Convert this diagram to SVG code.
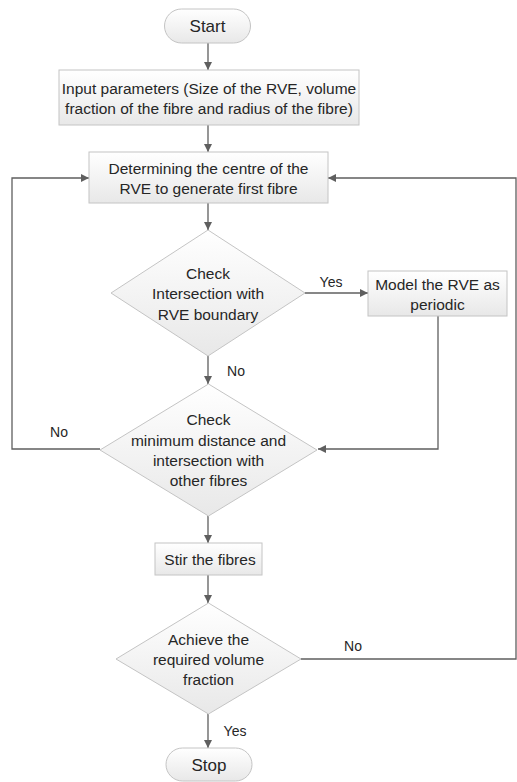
<svg xmlns="http://www.w3.org/2000/svg" width="517" height="782" viewBox="0 0 517 782">
<style>
.n{fill:url(#g);stroke:#c4c4c4;stroke-width:1}
.t{font-family:"Liberation Sans",Arial,sans-serif;font-size:15.5px;fill:#262626;text-anchor:middle}
.l{font-family:"Liberation Sans",Arial,sans-serif;font-size:14px;fill:#262626;text-anchor:middle}
.c{fill:none;stroke:#5f5f5f;stroke-width:1.3}
</style>
<defs>
<linearGradient id="g" x1="0" y1="0" x2="0" y2="1">
<stop offset="0" stop-color="#ffffff"/>
<stop offset="1" stop-color="#e8e8e8"/>
</linearGradient>
<marker id="a" viewBox="0 0 10 10" refX="10" refY="5" markerWidth="8" markerHeight="8" markerUnits="userSpaceOnUse" orient="auto">
<path d="M0,0 L10,5 L0,10 z" fill="#5f5f5f"/>
</marker>
</defs>
<rect width="517" height="782" fill="#ffffff"/>
<g id="connectors">
<line class="c" x1="208" y1="43" x2="208" y2="70" marker-end="url(#a)"/>
<line class="c" x1="208" y1="125" x2="208" y2="152" marker-end="url(#a)"/>
<line class="c" x1="208" y1="203" x2="208" y2="230" marker-end="url(#a)"/>
<line class="c" x1="305" y1="293" x2="368" y2="293" marker-end="url(#a)"/>
<line class="c" x1="208" y1="356" x2="208" y2="384" marker-end="url(#a)"/>
<polyline class="c" points="438,316 438,449 318,449" marker-end="url(#a)"/>
<polyline class="c" points="100,449 12,449 12,178 89,178" marker-end="url(#a)"/>
<line class="c" x1="208" y1="516" x2="208" y2="543" marker-end="url(#a)"/>
<line class="c" x1="208" y1="575" x2="208" y2="603" marker-end="url(#a)"/>
<polyline class="c" points="301,659 516,659 516,178 328,178" marker-end="url(#a)"/>
<line class="c" x1="208" y1="714" x2="208" y2="748" marker-end="url(#a)"/>
<text class="l" x="331" y="287">Yes</text>
<text class="l" x="236" y="376">No</text>
<text class="l" x="59" y="437">No</text>
<text class="l" x="353" y="651">No</text>
<text class="l" x="235" y="736">Yes</text>
</g>
<g id="start">
<rect class="n" x="164.5" y="9" width="86" height="34" rx="17"/>
<text class="t" x="207.5" y="32" style="font-size:17px">Start</text>
</g>
<g id="input">
<rect class="n" x="59" y="70" width="300" height="55"/>
<text class="t" x="209" y="93.5">Input parameters (Size of the RVE, volume</text>
<text class="t" x="209" y="113.5">fraction of the fibre and radius of the fibre)</text>
</g>
<g id="determine">
<rect class="n" x="89" y="152" width="239" height="51"/>
<text class="t" x="208.5" y="173.5">Determining the centre of the</text>
<text class="t" x="208.5" y="193.5">RVE to generate first fibre</text>
</g>
<g id="check1">
<polygon class="n" points="208,230 305,293 208,356 111,293"/>
<text class="t" x="208" y="278.5">Check</text>
<text class="t" x="208" y="299">Intersection with</text>
<text class="t" x="208" y="319.5">RVE boundary</text>
</g>
<g id="periodic">
<rect class="n" x="368" y="271" width="139" height="45"/>
<text class="t" x="437.5" y="289.5">Model the RVE as</text>
<text class="t" x="437.5" y="309.5">periodic</text>
</g>
<g id="check2">
<polygon class="n" points="208.5,384 317,450 208.5,516 100,450"/>
<text class="t" x="208.5" y="424.5">Check</text>
<text class="t" x="208.5" y="445.5">minimum distance and</text>
<text class="t" x="208.5" y="465.5">intersection with</text>
<text class="t" x="208.5" y="485.5">other fibres</text>
</g>
<g id="stir">
<rect class="n" x="155" y="543" width="107" height="32"/>
<text class="t" x="210" y="565">Stir the fibres</text>
</g>
<g id="achieve">
<polygon class="n" points="208.5,603 301,659 208.5,714 116,659"/>
<text class="t" x="208.5" y="644.5">Achieve the</text>
<text class="t" x="208.5" y="664.5">required volume</text>
<text class="t" x="208.5" y="684.5">fraction</text>
</g>
<g id="stop">
<rect class="n" x="166" y="748" width="86" height="33" rx="16.5"/>
<text class="t" x="209" y="771" style="font-size:17px">Stop</text>
</g>
</svg>
